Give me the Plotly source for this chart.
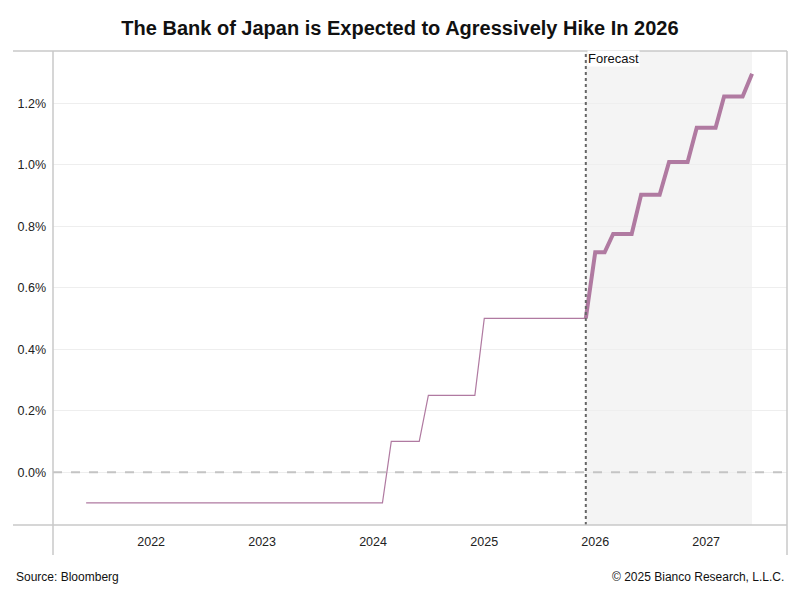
import plotly.graph_objects as go

# Historical policy rate (change points, monthly)
hist_dates = ["2021-06-01", "2024-02-01", "2024-03-01", "2024-06-01", "2024-07-01",
              "2024-12-01", "2025-01-01", "2025-12-01"]
hist_vals = [-0.10, -0.10, 0.10, 0.10, 0.25, 0.25, 0.50, 0.50]

# Forecast path (change points, monthly)
fc_dates = ["2025-12-01", "2026-01-01", "2026-02-01", "2026-03-01", "2026-05-01",
            "2026-06-01", "2026-08-01", "2026-09-01", "2026-11-01", "2026-12-01",
            "2027-02-01", "2027-03-01", "2027-05-01", "2027-06-01"]
fc_vals = [0.50, 0.715, 0.715, 0.775, 0.775, 0.902, 0.902, 1.009, 1.009, 1.12,
           1.12, 1.222, 1.222, 1.296]

year_ticks = ["2022-01-01", "2023-01-01", "2024-01-01", "2025-01-01", "2026-01-01", "2027-01-01"]
year_labels = ["2022", "2023", "2024", "2025", "2026", "2027"]
y_ticks = [0.0, 0.2, 0.4, 0.6, 0.8, 1.0, 1.2]
y_labels = ["0.0%", "0.2%", "0.4%", "0.6%", "0.8%", "1.0%", "1.2%"]

forecast_start = "2025-12-01"
forecast_end = "2027-06-01"

LINE = "#b07aa1"
FONT = "Liberation Sans, Arial, sans-serif"

fig = go.Figure()
fig.add_trace(go.Scatter(x=hist_dates, y=hist_vals, mode="lines",
                         line=dict(color=LINE, width=1.2), showlegend=False,
                         hoverinfo="skip"))
fig.add_trace(go.Scatter(x=fc_dates, y=fc_vals, mode="lines",
                         line=dict(color=LINE, width=4), showlegend=False,
                         hoverinfo="skip"))

# forecast shading
fig.add_shape(type="rect", xref="x", yref="paper", x0=forecast_start, x1=forecast_end,
              y0=0, y1=1, fillcolor="#f4f4f4", line_width=0, layer="below")
# zero dashed line
fig.add_shape(type="line", xref="paper", yref="y", x0=0, x1=1, y0=0, y1=0,
              line=dict(color="#c4c4c4", width=2, dash="dash"), layer="above")
# dotted forecast line
fig.add_shape(type="line", xref="x", yref="paper", x0=forecast_start, x1=forecast_start,
              y0=0, y1=1, line=dict(color="#666666", width=2, dash="dot"), layer="above")

# page has an 8px body margin, so margins are shifted accordingly
ML, MR, MT, MB = 45, 21, 43, 83
pw = 800 - ML - MR
ph = 600 - MT - MB
ext_l = -40 / pw
ext_b = -30 / ph
for x0, x1, y0, y1 in [(ext_l, 1, 1, 1), (ext_l, 1, 0, 0), (0, 0, ext_b, 1), (1, 1, ext_b, 1)]:
    fig.add_shape(type="line", xref="paper", yref="paper", x0=x0, x1=x1, y0=y0, y1=y1,
                  line=dict(color="#c8c8c8", width=1.5))

fig.add_annotation(text="Forecast", xref="x", yref="paper", x=forecast_start, y=1,
                   xanchor="left", yanchor="top", showarrow=False, bgcolor="white",
                   font=dict(family=FONT, size=13, color="#111111"), xshift=1, yshift=1,
                   borderpad=0)

fig.add_annotation(text="Source: Bloomberg", xref="paper", yref="paper",
                   x=-39 / pw, y=-52 / ph, xanchor="left", yanchor="middle",
                   showarrow=False, font=dict(family=FONT, size=12, color="#111111"))
fig.add_annotation(text="© 2025 Bianco Research, L.L.C.", xref="paper", yref="paper",
                   x=1 - 1 / pw, y=-52 / ph, xanchor="right", yanchor="middle",
                   showarrow=False, font=dict(family=FONT, size=12, color="#111111"))

fig.update_layout(
    width=800, height=600,
    margin=dict(l=ML, r=MR, t=MT, b=MB, autoexpand=False),
    paper_bgcolor="white", plot_bgcolor="white",
    title=dict(text="<b>The Bank of Japan is Expected to Agressively Hike In 2026</b>",
               x=392 / 800, xanchor="center", y=1 - 20 / 600, yanchor="middle",
               font=dict(family=FONT, size=20, color="#111111")),
    xaxis=dict(type="date", range=["2021-02-12", "2027-09-24"], automargin=False,
               tickvals=year_ticks, ticktext=year_labels, showgrid=False,
               zeroline=False, showline=False, ticks="", ticklabelstandoff=7,
               tickfont=dict(family=FONT, size=12.5, color="#222222")),
    yaxis=dict(range=[-0.172, 1.370], tickvals=y_ticks, ticktext=y_labels,
               automargin=False,
               showgrid=True, gridcolor="#eeeeee", gridwidth=1, zeroline=False,
               showline=False, ticks="", ticklabelstandoff=6,
               tickfont=dict(family=FONT, size=12.5, color="#222222")),
)

fig.write_html("out.html")
